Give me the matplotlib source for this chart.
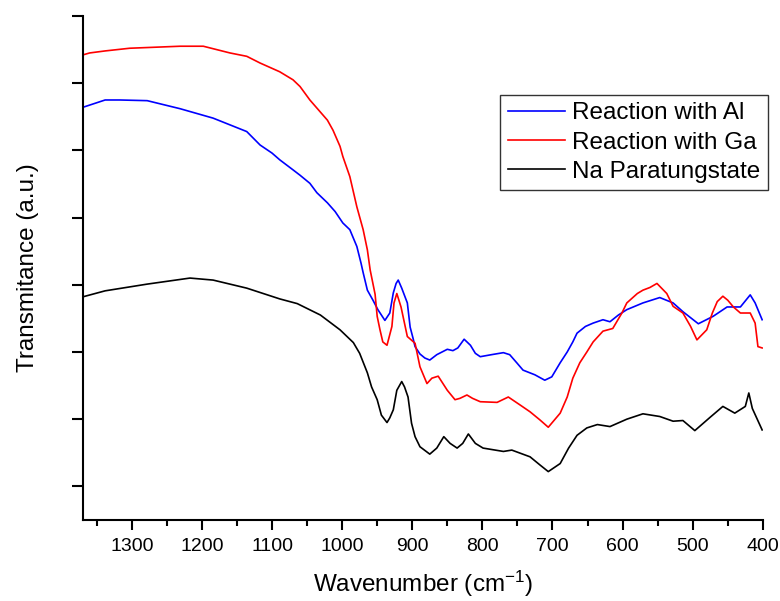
import matplotlib
matplotlib.use("Agg")
import matplotlib.pyplot as plt

plt.rcParams['font.family'] = ['Liberation Sans', 'DejaVu Sans']
plt.rcParams['mathtext.default'] = 'regular'

# wavenumber (cm-1) and transmittance (a.u.)
al_wn = [1370, 1338, 1317, 1278, 1231, 1184, 1160, 1136, 1117, 1100, 1089, 1070, 1060, 1046,
         1036, 1021, 1010, 999, 989, 979, 973, 970, 964, 956, 949, 939, 932, 927, 923, 920,
         915, 907, 903, 899, 896, 889, 882, 875, 865, 850, 842, 835, 826, 817, 810, 803,
         787, 770, 761, 751, 742, 725, 711, 701, 689, 679, 671, 665, 653, 642, 628, 618,
         606, 594, 571, 547, 528, 514, 492, 471, 451, 432, 418, 411, 401]
al_t = [6.14, 6.25, 6.25, 6.24, 6.12, 5.98, 5.88, 5.78, 5.58, 5.46, 5.36, 5.21, 5.13, 5.01,
        4.87, 4.72, 4.59, 4.42, 4.32, 4.07, 3.82, 3.68, 3.42, 3.27, 3.13, 2.97, 3.08, 3.38, 3.52, 3.57,
        3.45, 3.23, 2.87, 2.71, 2.58, 2.47, 2.41, 2.38, 2.46, 2.54, 2.52, 2.56, 2.69, 2.60, 2.48, 2.43,
        2.46, 2.49, 2.46, 2.34, 2.23, 2.16, 2.08, 2.13, 2.34, 2.50, 2.65, 2.78, 2.88, 2.93, 2.98, 2.95,
        3.05, 3.13, 3.23, 3.31, 3.23, 3.10, 2.92, 3.03, 3.17, 3.17, 3.35, 3.23, 2.98]

ga_wn = [1370, 1360, 1338, 1303, 1231, 1198, 1160, 1136, 1117, 1089, 1070, 1060, 1046, 1036,
         1021, 1013, 1003, 999, 989, 979, 970, 964, 960, 953, 950, 946, 942, 936, 929, 926,
         922, 916, 907, 896, 889, 879, 872, 863, 850, 839, 832, 822, 814, 803, 779, 763,
         746, 732, 718, 706, 689, 679, 671, 661, 651, 642, 628, 614, 601, 594, 579, 571,
         561, 551, 537, 528, 514, 503, 494, 480, 472, 465, 457, 450, 442, 432, 418, 411,
         407, 401]
ga_t = [6.92, 6.95, 6.98, 7.02, 7.05, 7.05, 6.95, 6.90, 6.80, 6.67, 6.55, 6.45, 6.25, 6.13,
        5.95, 5.80, 5.56, 5.41, 5.11, 4.66, 4.32, 4.02, 3.72, 3.36, 3.03, 2.83, 2.65, 2.60, 2.88, 3.23,
        3.37, 3.17, 2.73, 2.63, 2.28, 2.03, 2.11, 2.14, 1.93, 1.79, 1.81, 1.86, 1.81, 1.76, 1.75, 1.83,
        1.71, 1.61, 1.49, 1.38, 1.59, 1.83, 2.11, 2.34, 2.50, 2.65, 2.81, 2.85, 3.08, 3.23, 3.37, 3.42,
        3.46, 3.52, 3.37, 3.18, 3.08, 2.88, 2.68, 2.83, 3.08, 3.25, 3.33, 3.27, 3.17, 3.08, 3.08, 2.93,
        2.58, 2.56]

na_wn = [1370, 1338, 1278, 1217, 1184, 1136, 1089, 1064, 1031, 1003, 984, 975, 964, 958,
         950, 944, 936, 932, 927, 922, 915, 911, 906, 901, 896, 889, 875, 865, 855, 846,
         836, 828, 820, 810, 799, 770, 758, 732, 718, 706, 689, 677, 665, 651, 636, 618,
         594, 571, 547, 528, 514, 497, 475, 457, 440, 425, 420, 415, 401]
na_t = [3.32, 3.41, 3.51, 3.60, 3.57, 3.45, 3.29, 3.22, 3.05, 2.83, 2.64, 2.48, 2.19, 1.98,
        1.79, 1.56, 1.45, 1.52, 1.64, 1.93, 2.06, 1.98, 1.83, 1.44, 1.24, 1.09, 0.98, 1.07, 1.24, 1.14,
        1.07, 1.14, 1.28, 1.14, 1.07, 1.02, 1.04, 0.94, 0.82, 0.72, 0.84, 1.07, 1.26, 1.37, 1.42, 1.39,
        1.50, 1.58, 1.54, 1.47, 1.48, 1.33, 1.53, 1.69, 1.59, 1.69, 1.89, 1.66, 1.34]

labels = ["Reaction with Al", "Reaction with Ga", "Na Paratungstate"]

fig = plt.figure(figsize=(7.8, 6.01), dpi=100)
ax = fig.add_axes([0.106, 0.1348, 0.872, 0.8386])

ax.plot(al_wn, al_t, color="#0000ff", lw=1.2, label=labels[0])
ax.plot(ga_wn, ga_t, color="#ff0000", lw=1.2, label=labels[1])
ax.plot(na_wn, na_t, color="black", lw=1.2, label=labels[2])

ax.set_xlim(1370, 400)
ax.set_ylim(0, 7.5)
ax.set_xticks([1300, 1200, 1100, 1000, 900, 800, 700, 600, 500, 400])
ax.set_xticks([1350, 1250, 1150, 1050, 950, 850, 750, 650, 550, 450], minor=True)
ax.set_yticks([0.5, 1.5, 2.5, 3.5, 4.5, 5.5, 6.5, 7.5])
ax.set_yticklabels([])

for s in ["top", "right"]:
    ax.spines[s].set_visible(False)
for s in ["left", "bottom"]:
    ax.spines[s].set_linewidth(1.5)

ax.tick_params(axis="x", which="major", direction="out", length=7, width=1.5,
               labelsize=14, pad=6)
ax.tick_params(axis="x", which="minor", direction="out", length=4, width=1.5)
ax.tick_params(axis="y", which="major", direction="out", length=8, width=1.5)

ax.set_xlabel(r"Wavenumber (cm$^{-1}$)", fontsize=17.5, labelpad=10)
ax.set_ylabel("Transmitance (a.u.)", fontsize=17.5, labelpad=20)

leg = ax.legend(loc="upper right", bbox_to_anchor=(0.984, 0.842),
                bbox_transform=fig.transFigure, fontsize=17.5, frameon=True,
                fancybox=False, handlelength=2.35, labelspacing=0.3,
                borderpad=0.3, handletextpad=0.3, borderaxespad=0)
leg.get_frame().set_edgecolor("black")
leg.get_frame().set_linewidth(1.0)

fig.savefig("out.png", dpi=100)
